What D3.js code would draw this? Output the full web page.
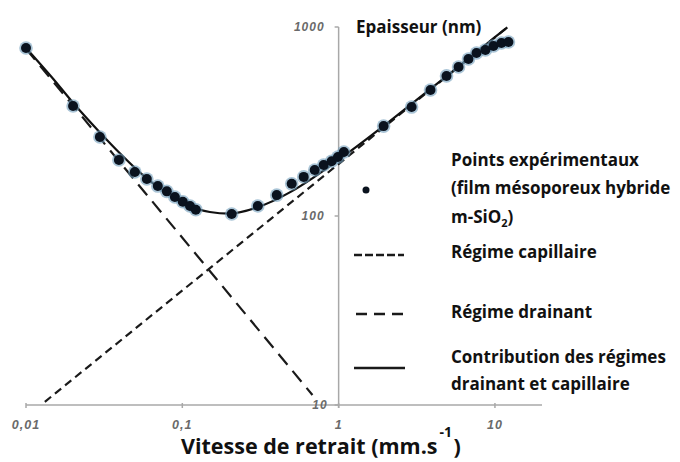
<!DOCTYPE html>
<html>
<head>
<meta charset="utf-8">
<script src="https://cdn.jsdelivr.net/npm/d3@7"></script>
<style>
  body { margin: 0; background: #fff; }
  svg { display: block; font-family: "Open Sans", sans-serif; }
</style>
</head>
<body>
<svg id="chart" width="680" height="462"></svg>
<script>
// tick values and labels (french decimal comma)
const xTicks = [0.01, 0.1, 1, 10]
const xTickLabels = ["0,01", "0,1", "1", "10"]
const yTicks = [10, 100, 1000]
const yTickLabels = ["10", "100", "1000"]

// experimental points : speed (mm/s) and thickness (nm)
const speeds = [0.010, 0.020, 0.0297, 0.0393, 0.0497, 0.0593, 0.0697, 0.0796, 0.0896, 0.1007,
  0.112, 0.122, 0.207, 0.304, 0.402, 0.501, 0.598, 0.703, 0.802, 0.902, 0.99, 1.08,
  1.94, 2.93, 3.87, 4.90, 5.85, 6.77, 7.62, 8.69, 9.78, 11.0, 12.2]
const thickness = [774, 382, 262, 198, 171, 157, 144, 135, 126, 119,
  113, 108, 102.5, 113, 129, 148, 161, 175, 186, 195, 205, 218,
  299, 377, 464, 551, 614, 677, 729, 756, 793, 823, 833]

// solid curve (both regimes)
const fitSpeeds = [0.01, 0.015, 0.02, 0.03, 0.04, 0.05, 0.07, 0.1, 0.15, 0.2, 0.3, 0.5, 0.7, 1, 1.5, 2, 3, 5, 7, 10, 12]
const fitThickness = [775, 529, 397, 274, 214, 179, 142, 117.5, 105, 103, 111, 135, 161, 198, 254, 305, 398, 557, 696, 883, 996]

// short dashes (legend: capillaire)
const capSpeeds = [0.0132, 12]
const capThickness = [10.4, 995]
// long dashes (legend: drainant)
const drainSpeeds = [0.01, 0.68]
const drainThickness = [766, 11.3]

const svg = d3.select("#chart")

const x = d3.scaleLog().domain([0.01, 20]).range([26, 542])
const y = d3.scaleLog().domain([10, 1000]).range([405, 27])

const axisColor = "#a8a8a8"
const tickColor = "#6a6a6a"

// x axis
svg.append("line")
  .attr("x1", x(0.01)).attr("x2", x(20))
  .attr("y1", y(10)).attr("y2", y(10))
  .attr("stroke", axisColor).attr("stroke-width", 1.5)

svg.selectAll(".xtick")
  .data(xTicks)
  .enter()
  .append("line")
  .attr("class", "xtick")
  .attr("x1", d => x(d)).attr("x2", d => x(d))
  .attr("y1", y(10) - 2).attr("y2", y(10) + 3)
  .attr("stroke", axisColor).attr("stroke-width", 1.5)

svg.selectAll(".xlab")
  .data(xTicks)
  .enter()
  .append("text")
  .attr("class", "xlab")
  .attr("x", d => x(d))
  .attr("y", 429)
  .attr("text-anchor", "middle")
  .style("font-family", "Liberation Sans, Arial, sans-serif")
  .style("font-style", "italic").style("font-weight", "bold")
  .style("font-size", "12.5px").style("letter-spacing", "1px")
  .attr("fill", tickColor)
  .text((d, i) => xTickLabels[i])

// y axis
svg.append("line")
  .attr("x1", x(1)).attr("x2", x(1))
  .attr("y1", y(1000)).attr("y2", y(10) + 3)
  .attr("stroke", axisColor).attr("stroke-width", 1.5)

svg.selectAll(".ytick")
  .data(yTicks)
  .enter()
  .append("line")
  .attr("class", "ytick")
  .attr("x1", x(1) - 4).attr("x2", x(1))
  .attr("y1", d => y(d)).attr("y2", d => y(d))
  .attr("stroke", axisColor).attr("stroke-width", 1.5)

svg.selectAll(".ylab")
  .data(yTicks)
  .enter()
  .append("text")
  .attr("class", "ylab")
  .attr("x", d => d === 10 ? x(1) - 11 : x(1) - 14)
  .attr("y", d => y(d) + 4)
  .attr("text-anchor", "end")
  .style("font-family", "Liberation Sans, Arial, sans-serif")
  .style("font-style", "italic").style("font-weight", "bold")
  .style("font-size", "12px").style("letter-spacing", "1px")
  .attr("fill", tickColor)
  .text((d, i) => yTickLabels[i])

// axis titles
svg.append("text")
  .attr("x", 356).attr("y", 33)
  .style("font-weight", "bold").style("font-size", "17px")
  .attr("fill", "#111")
  .text("Epaisseur (nm)")

const xTitle = svg.append("text")
  .attr("x", 181).attr("y", 454)
  .style("font-weight", "bold").style("font-size", "21.5px")
  .attr("fill", "#111")
  .text("Vitesse de retrait (mm.s")
const tw = xTitle.node().getComputedTextLength()
svg.append("text")
  .attr("x", 181 + tw + 2).attr("y", 437)
  .style("font-weight", "bold").style("font-size", "14px")
  .attr("fill", "#111")
  .text("-1")
svg.append("text")
  .attr("x", 181 + tw + 16).attr("y", 454)
  .style("font-weight", "bold").style("font-size", "21.5px")
  .attr("fill", "#111")
  .text(")")

// lines
const line = d3.line().x(d => x(d[0])).y(d => y(d[1]))

svg.append("path")
  .attr("d", line(capSpeeds.map((s, i) => [s, capThickness[i]])))
  .attr("fill", "none").attr("stroke", "#1a1a1a").attr("stroke-width", 2.2)
  .attr("stroke-dasharray", "8,5")

svg.append("path")
  .attr("d", line(drainSpeeds.map((s, i) => [s, drainThickness[i]])))
  .attr("fill", "none").attr("stroke", "#1a1a1a").attr("stroke-width", 2.2)
  .attr("stroke-dasharray", "14,8")

svg.append("path")
  .attr("d", line.curve(d3.curveMonotoneX)(fitSpeeds.map((s, i) => [s, fitThickness[i]])))
  .attr("fill", "none").attr("stroke", "#111").attr("stroke-width", 2.2)

// experimental points
const pts = speeds.map((s, i) => [s, thickness[i]])
svg.append("g").selectAll("circle")
  .data(pts)
  .enter()
  .append("circle")
  .attr("cx", d => x(d[0])).attr("cy", d => y(d[1]))
  .attr("r", 6.8)
  .attr("fill", "#6f9cba").attr("opacity", 0.6)
svg.append("g").selectAll("circle")
  .data(pts)
  .enter()
  .append("circle")
  .attr("cx", d => x(d[0])).attr("cy", d => y(d[1]))
  .attr("r", 5)
  .attr("fill", "#0a121e")

// legend
const legX = 451
const legText = (txt, yy) => svg.append("text")
  .attr("x", legX).attr("y", yy)
  .style("font-weight", "bold").style("font-size", "17px")
  .attr("fill", "#111")
  .text(txt)

legText("Points expérimentaux", 166)
legText("(film mésoporeux hybride", 194)
const sio = legText("m-SiO", 223)
sio.append("tspan").attr("dy", 4).style("font-size", "11px").text("2")
sio.append("tspan").attr("dy", -4).text(")")
legText("Régime capillaire", 258)
legText("Régime drainant", 318)
legText("Contribution des régimes", 363)
legText("drainant et capillaire", 390)

svg.append("circle").attr("cx", 366).attr("cy", 190).attr("r", 3.5).attr("fill", "#0a121e")
svg.append("line").attr("x1", 354).attr("x2", 404).attr("y1", 255).attr("y2", 255)
  .attr("stroke", "#1a1a1a").attr("stroke-width", 2.5).attr("stroke-dasharray", "8,3")
svg.append("line").attr("x1", 356).attr("x2", 404).attr("y1", 314).attr("y2", 314)
  .attr("stroke", "#1a1a1a").attr("stroke-width", 2.5).attr("stroke-dasharray", "11,7")
svg.append("line").attr("x1", 354).attr("x2", 405).attr("y1", 368).attr("y2", 368)
  .attr("stroke", "#1a1a1a").attr("stroke-width", 2.5)
</script>
</body>
</html>
